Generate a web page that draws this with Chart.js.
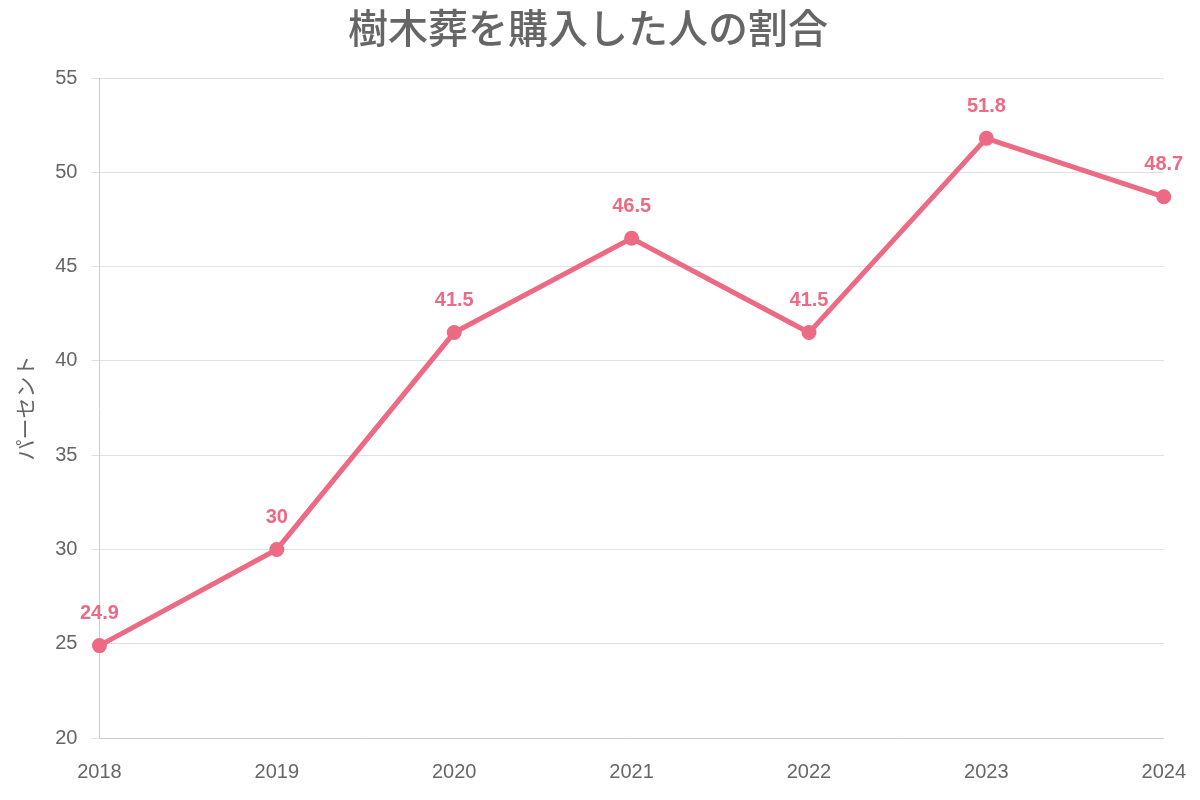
<!DOCTYPE html>
<html><head><meta charset="utf-8">
<script src="https://cdn.jsdelivr.net/npm/chart.js@4"></script>
<style>html,body{margin:0;padding:0;background:#fff}#w{width:1200px;height:800px}</style>
</head><body><div id="w"><canvas id="c"></canvas></div>
<script>
const years = ['2018','2019','2020','2021','2022','2023','2024'];
const values = [24.9, 30, 41.5, 46.5, 41.5, 51.8, 48.7];
const color = 'rgb(236,106,131)';
const labelPlugin = {
  id: 'valLabels',
  afterDatasetsDraw(chart) {
    const ctx = chart.ctx;
    const meta = chart.getDatasetMeta(0);
    ctx.save();
    ctx.font = 'bold 20px "Helvetica Neue", Arial, "Liberation Sans", sans-serif';
    ctx.fillStyle = color;
    ctx.textAlign = 'center';
    ctx.textBaseline = 'bottom';
    meta.data.forEach((p, i) => {
      ctx.fillText(String(values[i]), p.x, p.y - 22);
    });
    ctx.restore();
  }
};
new Chart(document.getElementById('c'), {
  type: 'line',
  data: { labels: years, datasets: [{ data: values, borderColor: color, backgroundColor: color,
    borderWidth: 5, pointRadius: 5, pointHoverRadius: 5, tension: 0 }] },
  options: {
    responsive: true, maintainAspectRatio: false, animation: false,
    layout: { padding: { left: 8, right: 32, top: 0, bottom: 2 } },
    plugins: {
      legend: { display: false }, tooltip: { enabled: false },
      title: { display: true, text: '樹木葬を購入した人の割合', color: '#666',
        font: { size: 40, weight: '500', family: '"Noto Sans CJK JP", sans-serif' }, padding: { top: 4, bottom: 26 } }
    },
    scales: {
      x: { grid: { display: false }, border: { color: '#ccc' },
        ticks: { color: '#666', font: { size: 20, family: '"Helvetica Neue", Arial, "Liberation Sans", sans-serif' }, padding: 14, maxRotation: 0 } },
      y: { min: 20, max: 55, grid: { color: '#e0e0e0' }, border: { color: '#ccc' },
        ticks: { stepSize: 5, color: '#666', font: { size: 20, family: '"Helvetica Neue", Arial, "Liberation Sans", sans-serif' }, padding: 14 },
        title: { display: true, text: 'パーセント', color: '#666', font: { size: 21, family: '"Noto Sans CJK JP", sans-serif' } } }
    }
  },
  plugins: [labelPlugin]
});
</script></body></html>
